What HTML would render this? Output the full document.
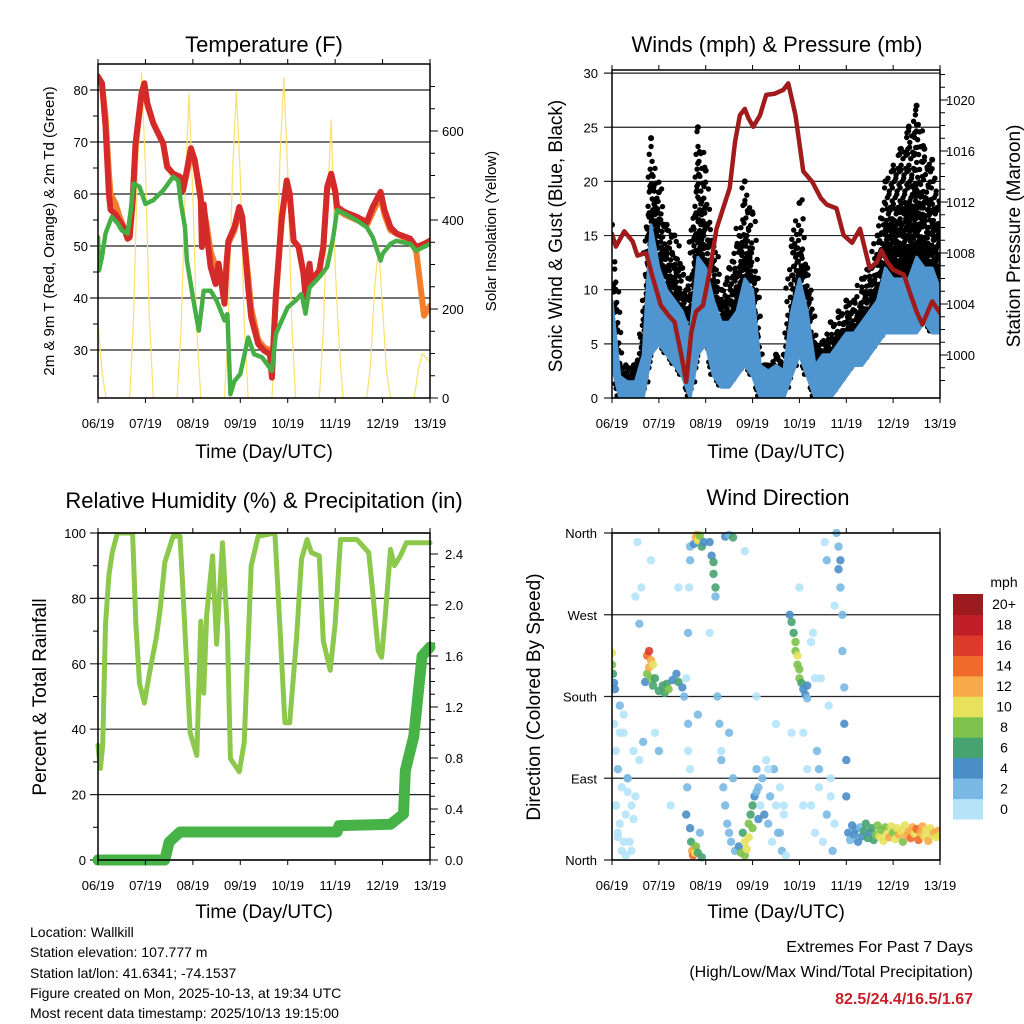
<!DOCTYPE html>
<html><head><meta charset="utf-8"><style>
html,body{margin:0;padding:0;background:#fff;}
svg{display:block;font-family:"Liberation Sans",Arial,sans-serif;}
</style></head><body>
<svg id="chart" width="1024" height="1024" viewBox="0 0 1024 1024" xmlns="http://www.w3.org/2000/svg">
<rect x="0" y="0" width="1024" height="1024" fill="#fff"/>
<text x="264" y="52" font-size="22" text-anchor="middle">Temperature (F)</text>
<text x="777" y="52" font-size="22" text-anchor="middle">Winds (mph) &amp; Pressure (mb)</text>
<text x="264" y="508" font-size="22" text-anchor="middle">Relative Humidity (%) &amp; Precipitation (in)</text>
<text x="778" y="505" font-size="22" text-anchor="middle">Wind Direction</text>
<text transform="translate(54,231) rotate(-90)" font-size="15" text-anchor="middle">2m &amp; 9m T (Red, Orange) &amp; 2m Td (Green)</text>
<text transform="translate(496,231) rotate(-90)" font-size="15" text-anchor="middle">Solar Insolation (Yellow)</text>
<text transform="translate(562,236) rotate(-90)" font-size="19" text-anchor="middle">Sonic Wind &amp; Gust (Blue, Black)</text>
<text transform="translate(1020,236) rotate(-90)" font-size="19" text-anchor="middle">Station Pressure (Maroon)</text>
<text transform="translate(46,697) rotate(-90)" font-size="19" text-anchor="middle">Percent &amp; Total Rainfall</text>
<text transform="translate(540,697) rotate(-90)" font-size="19" text-anchor="middle">Direction (Colored By Speed)</text>
<text x="264" y="458" font-size="19" text-anchor="middle">Time (Day/UTC)</text>
<text x="776" y="458" font-size="19" text-anchor="middle">Time (Day/UTC)</text>
<text x="264" y="918" font-size="19" text-anchor="middle">Time (Day/UTC)</text>
<text x="776" y="918" font-size="19" text-anchor="middle">Time (Day/UTC)</text>
<g font-size="14">
<text x="30" y="937">Location: Wallkill</text>
<text x="30" y="957">Station elevation: 107.777 m</text>
<text x="30" y="978">Station lat/lon: 41.6341; -74.1537</text>
<text x="30" y="998">Figure created on Mon, 2025-10-13, at 19:34 UTC</text>
<text x="30" y="1018">Most recent data timestamp: 2025/10/13 19:15:00</text>
</g>
<text x="973" y="952" font-size="16" text-anchor="end">Extremes For Past 7 Days</text>
<text x="973" y="977" font-size="16" text-anchor="end">(High/Low/Max Wind/Total Precipitation)</text>
<text x="973" y="1004" font-size="16" font-weight="bold" fill="#c8202a" text-anchor="end">82.5/24.4/16.5/1.67</text>
</svg>
<script>
// ---------- data ----------
const dayLabels = ["06/19","07/19","08/19","09/19","10/19","11/19","12/19","13/19"];
const tempT = [0,2,3.8,5.5,6.3,9,10.6,13,15,16,17.5,19,22,23.5,25,28,30,33,35,38,41.5,43,45,47,49,52,52.6,53.5,55,57,59.5,61,64,65,66,69,71.5,73,76,77.5,81,84,87,88,90,93,95.5,97,99,101.5,104,105,107,108,112,114,116,118,120,121,125,131,136,139,143,145,148,151,158,161,165,168];
const redV = [82.6,81.3,73,60,57,56,55,53.6,51.4,51.7,58.8,69.7,79.4,81.3,77.4,73.6,72,69.7,65.2,63.9,63.3,60.7,64.6,68.8,66.5,58.8,49.8,58,52.4,46,42.7,46.6,38.9,46.6,51,53.6,57.5,55.6,42,36.3,31.2,29.9,29.2,24.7,40.8,55.6,62.6,60.1,51,49.8,44.7,40.2,46.6,43.3,45.3,49.8,61.4,63.9,60.7,57.5,56.5,55.6,54.6,57.5,60.4,56.9,53.6,52.4,51.4,49.8,50.4,51];
const orangeV = [82,81,75,64,60,58,56,53.6,51.4,51.7,58,69,79,81,77,73.6,72,69.7,65.2,63.9,63.3,60.7,64,68,66,60,55,57,54,49,46,46.6,40,46,50.5,53,56.5,55,44,38,32,30.5,30,26,40,55,62,60,51,49.8,44.7,41,46,43.3,45.3,49.8,61,63,60.5,57,56,55,54,56.5,59.5,56,53,52.4,51,49,36.6,38.5];
const dewT = [0,0.5,2,3.8,7,10,12,15,16.6,18,21,24,28,33,38,40.6,42,44,45,48,51,53.5,57,60,64,65.5,67,69,72,76,79,83,88,90,93,96,100,103,105,107,112,116,119,121,125,131,136,139,143,144,148,151,158,161,168];
const dewV = [51.7,45.3,47.9,52.4,55.6,54.3,53,52.4,56.9,62,61.4,58.1,58.8,60.7,63.3,62.6,58.1,53.6,47.2,40.2,33.7,41.4,41.4,39.5,35.7,37,21.5,24,25.4,32.4,29.2,28.6,26,33.1,35.7,38.2,39.5,40.8,37,42,44,46,51.7,56.9,56.2,54.9,53.6,51.7,47.2,48.5,50.4,51,50.4,49.1,50.4];
const solarT = [0,2,4,16,18,20,22,24,26,28,40,42,44,46,48,50,52,64,66,68,70,72,74,76,88,90,92,94,96,98,100,112,114,116,118,120,122,124,136,138,140,142,144,146,148,160,162,164,166,168];
const solarV = [170,60,0,0,180,520,730,520,180,0,0,150,450,685,450,150,0,0,170,500,688,500,170,0,0,180,530,720,510,170,0,0,150,420,625,300,120,0,0,80,250,340,200,60,0,0,60,100,90,80];
const windT = [0,4,8,12,16,20,24,28,32,36,40,44,48,52,56,60,64,68,72,76,80,84,88,92,96,100,104,108,112,116,120,124,128,132,136,140,144,148,152,156,160,164,168];
const windLo = [3,0,0,0,0,4,5,4,3,2,0,4,5,2,1,1,2,3,2,0,0,0,0,2,4,2,0,0,0,1,2,3,3,4,5,6,6,6,6,6,7,6,6];
const windHi = [9,2,1.5,1.5,4,16,12,10,9,8,6,13,12,9,7,7,8,11,10,3,2.5,3,2.5,8,11,8,3,4,4,5,6,6,7,8,9,12,11,11,11,13,12,12,10];
const gustV = [16,3,2.8,2.8,8,24,19,16,15,12,11,25,21,14,10,12,14,20,17,3,3,4,4,14,18,12,5,5,7,8,9,9,11,12,15,20,21,23,25,27,23,22,18];
const presT = [0,2,6.3,10.6,13,17.5,21,25,29.5,32,35.5,38,40.6,43,46.6,50,53.5,58.6,60.3,63,65.5,68,69.8,72.3,75.8,79,83.5,87.8,90.3,94,98,102.5,107,110,115,118.6,123,127,132,135.8,138,141,144,149.5,153,156,159,164,168];
const presV = [1009.5,1008.5,1009.7,1008.9,1007.8,1008,1006,1003.9,1003,1002.6,1000,997.9,1001.8,1003.4,1003.9,1006.5,1009.9,1012.3,1013.1,1016.7,1018.8,1019.3,1018.6,1017.9,1018.8,1020.4,1020.5,1020.8,1021.3,1018.8,1014.4,1013.6,1012.3,1011.8,1011.5,1009.4,1008.8,1009.9,1006.8,1007.3,1008.2,1007.3,1006.7,1006.3,1004.7,1003.4,1002.4,1004.2,1003.3];
const rhT = [0,1.2,2.4,3.8,5.5,7.2,9.8,17.5,19.2,21,23.5,26,29.5,31.5,33.8,38,41.5,43,46.6,50,52,53.5,55,58,60,63,65.5,67,71.5,74,77.5,81,89.5,92,94.6,97,100.5,103,105.8,108,112,114,117.5,120,122.7,131,137,139,141.8,143.5,145.3,148,150,153,156,161.5,168];
const rhV = [35,28,35,72,87,94,100,100,72,54,48,57,68,77,91,99,99,82,39,32,73,51,75,93,66,97,70,31,27,36,90,99,100,72,42,42,68,92,98,94,93,67,58,72,98,98,94,82,64,62,74,95,90,93,97,97,97];
const rainT = [0,33.8,36,41.5,121,122,148,154.6,155.5,159.8,162,164,168];
const rainV = [0,0,0.14,0.22,0.22,0.27,0.28,0.36,0.7,0.97,1.3,1.6,1.67];
const dirT = [1,2,2,3,3,4,5,5,6,7,8,9,10,11,12,13,14,15,
 0,0,0.5,1,1.5,
 17,18,18,19,19,20,20,21,21,22,
 24,26,27,28,29,31,33,34,36,37,
 38,38.5,39,39,39,39.5,40,40,
 40,40.5,41,41.5,42,42.5,43,44,45,46,
 42,43,43.5,44,45,46,47,
 50,51,52,52,53,53,
 54,55,56,57,58,58,59,60,60,61,62,63,
 65,66,67,68,68,69,70,70,71,72,72,73,74,75,
 74,75,76,77,78,79,80,81,82,83,84,85,86,87,88,89,
 91,92,93,94,94,95,95,96,96,97,98,99,100,100,
 96,98,100,102,103,104,105,106,107,108,109,110,111,112,113,114,
 115,116,116,117,117,118,118,119,119,120,120,
 121,122,123,124,125,126,127,128,129,130,131,132,133,134,135,136,137,138,139,140,141,142,143,144,145,146,147,148,149,150,151,152,153,154,155,156,157,158,159,160,161,162,163,164,165,166,167,168,
 2,4,6,8,10,12,14,16,4,6,8,20,22,24,30,34,38,44,50,56,62,68,74,80,86,92,98,104,110,3,7,11,40,60,84,88,102,106,112,114];
const dirDeg = [150,120,60,100,30,170,80,10,140,50,90,20,60,120,290,350,260,300,
 228,215,205,195,188,
 196,225,205,230,212,220,200,215,192,200,
 186,192,184,194,188,198,205,196,190,180,
 50,80,120,150,250,300,330,345,
 35,20,10,5,12,8,15,8,30,3,
 348,355,358,352,357,345,350,
 350,335,328,315,300,290,
 180,150,110,80,356,60,40,358,30,20,355,10,
 15,8,30,20,5,12,40,25,50,60,35,70,75,45,
 100,80,60,90,50,110,40,70,20,100,60,30,80,10,50,5,
 270,262,250,240,230,225,215,210,200,195,188,182,178,192,
 300,140,100,60,250,30,120,80,200,20,350,50,170,90,10,280,
 360,345,320,330,300,270,230,190,150,110,70,
 30,22,38,28,34,20,36,26,32,40,24,30,35,22,28,38,26,33,21,36,29,25,37,30,23,35,28,32,20,38,27,31,24,36,29,34,22,30,37,26,33,21,35,28,30,25,32,27,
 60,40,20,90,10,70,110,130,140,160,75,330,140,120,60,300,200,160,250,120,90,340,180,100,30,140,60,200,330,25,5,45,100,140,150,60,240,100,70,40];
const dirSpd = [1,1,0,2,1,2,1,0,1,0,2,1,0,1,1,0,2,1,
 10,8,6,4,4,
 4,14,8,16,12,13,9,10,6,6,
 6,7,6,7,8,5,4,6,4,3,
 4,3,1,2,2,1,2,3,
 5,6,12,14,13,10,8,6,3,6,
 5,12,13,10,8,6,4,
 4,5,6,7,6,3,
 2,2,3,3,4,2,2,2,2,2,6,3,
 4,8,6,10,9,11,8,10,7,6,9,5,3,4,
 2,3,1,2,4,1,3,2,1,2,1,3,0,2,1,1,
 4,6,6,8,9,10,8,9,8,6,4,4,3,4,
 1,1,0,1,1,0,2,1,1,0,1,2,0,1,2,1,
 2,3,4,4,3,3,3,3,4,4,4,
 4,3,5,4,4,5,3,4,6,7,6,5,7,6,8,9,10,8,11,9,10,12,10,9,11,10,12,10,9,11,12,13,14,12,10,14,15,13,12,11,10,12,11,10,13,11,12,10,
 1,0,1,2,1,0,1,2,1,0,1,1,0,2,1,1,1,2,1,1,2,1,0,1,2,1,1,0,2,1,0,1,1,2,0,1,1,2,1,0];
const speedLabels = ["0","2","4","6","8","10","12","14","16","18","20+"];
const speedColors = ["#b5e3f8","#7ab9e3","#4b8ec7","#46a36f","#7dc24b","#e7e15c","#f8aa48","#f06a2a","#dd3a2c","#c01f27","#9b1b1e"];

// ---------- helpers ----------
const NS = "http://www.w3.org/2000/svg";
const svg = document.getElementById("chart");
function mk(tag, attrs, parent) {
  const e = document.createElementNS(NS, tag);
  for (const k in attrs) e.setAttribute(k, attrs[k]);
  (parent || svg).appendChild(e);
  return e;
}
function txt(s, attrs, parent) { const e = mk("text", attrs, parent); e.textContent = s; return e; }
function pts(xs, ys, fx, fy) { return xs.map((t, i) => fx(t).toFixed(1) + "," + fy(ys[i]).toFixed(1)).join(" "); }

function axesFrame(g, x0, x1, y0, y1, tx) {
  for (let d = 0; d < dayLabels.length; d++) {
    const x = tx(d * 24);
    const tk = mk("line", {x1: x, x2: x, y1: y1, y2: y1 + 5, stroke: "#000", "stroke-width": 1}, g);
    
    
    const tt = mk("line", {x1: x, x2: x, y1: y0, y2: y0 - 5, stroke: "#000", "stroke-width": 1}, g);
    
    
    const lb = txt(dayLabels[d], {x: x, y: y1 + 30, "font-size": 13, "text-anchor": "middle"}, g);
    
    
  }
}
function frame(g, x0, x1, y0, y1) {
  const r = mk("rect", {x: x0, y: y0, width: x1 - x0, height: y1 - y0, fill: "none", stroke: "#000", "stroke-width": 1.5}, g);
  
  
}
function gridY(g, x0, x1, y, lbl, lx, anchor) {
  const l = mk("line", {x1: x0 - 8, x2: x1, y1: y, y2: y, stroke: "#222", "stroke-width": 1.2}, g);
  
  
  const t = txt(lbl, {x: lx, y: y + 5, "font-size": 13, "text-anchor": anchor}, g);
  
  
}
function rightTick(g, x1, y, lbl, lx) {
  const l = mk("line", {x1: x1, x2: x1 + 8, y1: y, y2: y, stroke: "#000", "stroke-width": 1}, g);
  
  
  const t = txt(lbl, {x: lx, y: y + 5, "font-size": 13, "text-anchor": "start"}, g);
  
  
}
function minorTick(g, x, y, len) {
  const l = mk("line", {x1: x, x2: x + len, y1: y, y2: y, stroke: "#000", "stroke-width": 1}, g);
  
  
}
function line(g, d, color, w, name) {
  const p = mk("polyline", {points: d, fill: "none", stroke: color, "stroke-width": w, "stroke-linejoin": "round", "stroke-linecap": "round"}, g);
  
  
  return p;
}

// ---------- Panel 1: temperature ----------
{
  const x0 = 98, x1 = 430, y0 = 64, y1 = 398;
  const tx = t => x0 + t / 168 * (x1 - x0);
  const ty = v => 350 - (v - 30) * 5.2;
  const sy = w => 398 - w * 0.445;
  const g = mk("g", {});
  
  
  const clip = mk("clipPath", {id: "c1"}, g);
  mk("rect", {x: x0, y: y0, width: x1 - x0, height: y1 - y0}, clip);
  for (let v = 25; v <= 80; v += 5) if (v % 10) minorTick(g, x0 - 5, ty(v), 5);
  for (let v = 30; v <= 80; v += 10) gridY(g, x0, x1, ty(v), String(v), 88, "end");
  for (let w = 0; w <= 700; w += 50) minorTick(g, x1, sy(w), w % 200 ? 5 : 8);
  for (let w = 0; w <= 600; w += 200) rightTick(g, x1, sy(w), String(w), 442);
  const dg = mk("g", {"clip-path": "url(#c1)"}, g);
  line(dg, pts(solarT, solarV, tx, sy), "#fbe06a", 1.2, "solar-line");
  line(dg, pts(tempT, orangeV, tx, ty), "#f47d2b", 6, "temp-9m-line");
  line(dg, pts(tempT, redV, tx, ty), "#d42a2a", 6, "temp-2m-line");
  const dl = line(dg, pts(dewT, dewV, tx, ty), "#45ae45", 4.5, "dewpoint-line");
  dl.setAttribute("stroke-dasharray", "4 1.5");
  frame(g, x0, x1, y0, y1);
  axesFrame(g, x0, x1, y0, y1, tx);
}

// ---------- Panel 2: winds & pressure ----------
{
  const x0 = 612, x1 = 940, y0 = 70, y1 = 398;
  const tx = t => x0 + t / 168 * (x1 - x0);
  const wy = v => 398 - v * 10.83;
  const py = p => 355 - (p - 1000) * 12.75;
  const g = mk("g", {});
  
  
  const clip = mk("clipPath", {id: "c2"}, g);
  mk("rect", {x: x0, y: y0, width: x1 - x0, height: y1 - y0}, clip);
  for (let v = 0; v <= 30; v += 5) gridY(g, x0, x1, wy(v), String(v), 598, "end");
  for (let p = 998; p <= 1022; p += 1) minorTick(g, x1, py(p), p % 4 ? 5 : 8);
  for (let p = 1000; p <= 1020; p += 4) rightTick(g, x1, py(p), String(p), 946);
  const dg = mk("g", {"clip-path": "url(#c2)"}, g);
  // gust dots rendered between sustained wind and gust envelope
  for (let i = 0; i < windT.length - 1; i++) {
    for (let s = 0; s < 8; s++) {
      const f = s / 8;
      const t = windT[i] + f * (windT[i + 1] - windT[i]);
      const lo = windLo[i] + f * (windLo[i + 1] - windLo[i]);
      const hi = windHi[i] + f * (windHi[i + 1] - windHi[i]);
      const gu = gustV[i] + f * (gustV[i + 1] - gustV[i]);
      let k = 0;
      for (let v = lo + 0.5; v <= gu; v += 0.75, k++) {
        const frac = (v - hi) / Math.max(0.1, gu - hi);
        if (frac > 0.55 && ((i * 3 + s * 5 + k) % 3) !== 0) continue;
        if (frac > 0.2 && frac <= 0.55 && ((i + s + k) % 3) === 0) continue;
        const jx = (((i * 7 + s * 3 + k * 5) % 7) - 3) * 0.9;
        const jy = (((i * 5 + s * 11 + k * 3) % 5) - 2) * 0.15;
        const c = mk("circle", {cx: (tx(t) + jx).toFixed(1), cy: wy(v + jy).toFixed(1), r: 2.7, fill: "#000"}, dg);
        
        
      }
    }
  }
  windT.forEach((t, i) => {
    const c = mk("circle", {cx: tx(t), cy: wy(gustV[i]), r: 3, fill: "#000"}, dg);
    
    
  });
  const topW = windT.map((t, i) => tx(t).toFixed(1) + "," + wy(windHi[i]).toFixed(1));
  const botW = windT.map((t, i) => tx(t).toFixed(1) + "," + wy(windLo[i]).toFixed(1)).reverse();
  const wp = mk("polygon", {points: topW.concat(botW).join(" "), fill: "#4f95d0", stroke: "#4f95d0", "stroke-width": 3, "stroke-linejoin": "round"}, dg);
  
  
  line(dg, pts(presT, presV, tx, py), "#a01c1c", 4.5, "pressure-line");
  frame(g, x0, x1, y0, y1);
  axesFrame(g, x0, x1, y0, y1, tx);
}

// ---------- Panel 3: RH & rain ----------
{
  const x0 = 98, x1 = 430, y0 = 533, y1 = 860;
  const tx = t => x0 + t / 168 * (x1 - x0);
  const hy = v => 860 - v * 3.27;
  const ry = r => 860 - r * 127.5;
  const g = mk("g", {});
  
  
  const clip = mk("clipPath", {id: "c3"}, g);
  mk("rect", {x: x0 - 6, y: y0, width: x1 - x0 + 12, height: y1 - y0 + 6}, clip);
  for (let v = 10; v < 100; v += 20) minorTick(g, x0 - 5, hy(v), 5);
  for (let v = 0; v <= 100; v += 20) gridY(g, x0, x1, hy(v), String(v), 86, "end");
  for (let r = 0; r <= 2.5; r += 0.1) minorTick(g, x1, ry(r), 5);
  for (let k = 0; k <= 6; k++) rightTick(g, x1, ry(k * 0.4), (k * 0.4).toFixed(1), 445);
  const dg = mk("g", {"clip-path": "url(#c3)"}, g);
  line(dg, pts(rhT, rhV, tx, hy), "#8cc84b", 5, "humidity-line");
  line(dg, pts(rainT, rainV, tx, ry), "#47b347", 11, "rainfall-line");
  frame(g, x0, x1, y0, y1);
  axesFrame(g, x0, x1, y0, y1, tx);
}

// ---------- Panel 4: wind direction ----------
{
  const x0 = 612, x1 = 940, y0 = 533, y1 = 860;
  const tx = t => x0 + t / 168 * (x1 - x0);
  const dy = d => 860 - d * 327 / 360;
  const g = mk("g", {});
  
  
  const clip = mk("clipPath", {id: "c4"}, g);
  mk("rect", {x: x0, y: y0 - 4, width: x1 - x0, height: y1 - y0 + 8}, clip);
  const dirNames = ["North", "East", "South", "West", "North"];
  dirNames.forEach((n, i) => gridY(g, x0, x1, dy(i * 90), n, 597, "end"));
  const dg = mk("g", {"clip-path": "url(#c4)"}, g);
  dirT.forEach((t, i) => {
    const ci = Math.min(10, Math.floor(dirSpd[i] / 2));
    const c = mk("circle", {cx: tx(t).toFixed(1), cy: dy(dirDeg[i]).toFixed(1), r: 4.2, fill: speedColors[ci], "fill-opacity": 0.9}, dg);
    
    
  });
  frame(g, x0, x1, y0, y1);
  axesFrame(g, x0, x1, y0, y1, tx);
  // colorbar
  const cb = mk("g", {}, svg);
  
  
  const bh = 225 / 11;
  const u = txt("mph", {x: 1004, y: 587, "font-size": 14, "text-anchor": "middle"}, cb);
  
  
  for (let k = 0; k < 11; k++) {
    const yy = 594 + (10 - k) * bh;
    const r = mk("rect", {x: 953, y: yy.toFixed(1), width: 30, height: (bh + 0.5).toFixed(1), fill: speedColors[k]}, cb);
    
    
    const t = txt(speedLabels[k], {x: 1004, y: (yy + bh / 2 + 5).toFixed(1), "font-size": 14, "text-anchor": "middle"}, cb);
    
    
  }
}
</script>
</body></html>
